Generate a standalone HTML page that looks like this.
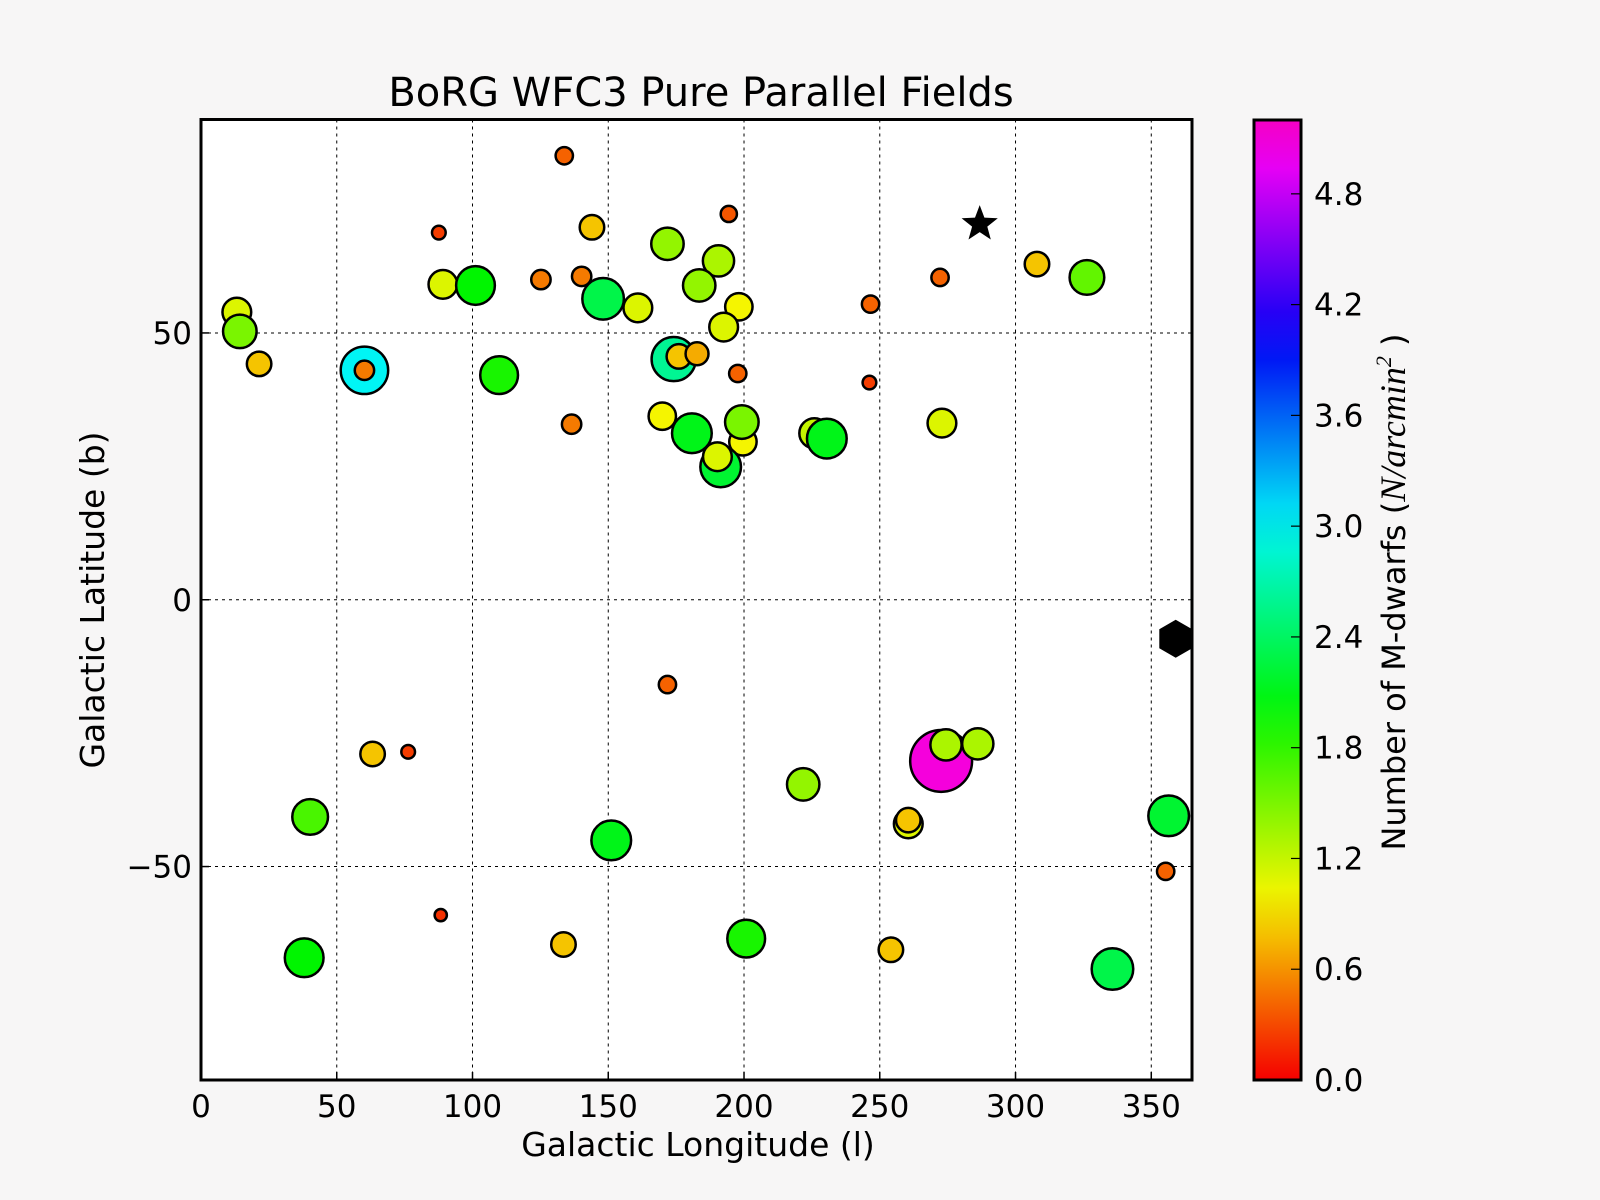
<!DOCTYPE html>
<html><head><meta charset="utf-8"><style>
html,body{margin:0;padding:0;background:#f7f6f6;}
svg{display:block;font-family:"DejaVu Sans","Liberation Sans",sans-serif;}
</style></head><body>
<svg id="chart" width="1600" height="1200" viewBox="0 0 1600 1200" xmlns="http://www.w3.org/2000/svg">
<defs>
<linearGradient id="cbg" x1="0" y1="1" x2="0" y2="0"></linearGradient>
</defs>
<rect x="0" y="0" width="1600" height="1200" fill="#f7f6f6"/>
<rect x="201" y="119.5" width="991" height="960.5" fill="#ffffff"/>
<g id="grid"></g>
<g id="marks"></g>
<rect x="201" y="119.5" width="991" height="960.5" fill="none" stroke="#000" stroke-width="3"/>
<g id="xticks"></g>
<g id="yticks"></g>
<text x="701" y="106" font-size="40" text-anchor="middle">BoRG WFC3 Pure Parallel Fields</text>
<text x="698" y="1156" font-size="33" text-anchor="middle">Galactic Longitude (l)</text>
<text transform="translate(104,600) rotate(-90)" font-size="33" text-anchor="middle">Galactic Latitude (b)</text>
<rect x="1254" y="120" width="47" height="960" fill="url(#cbg)" stroke="#000" stroke-width="3"/>
<g id="cticks"></g>
<text transform="translate(1405,592) rotate(-90)" font-size="32" text-anchor="middle">Number of M-dwarfs (<tspan font-family="Liberation Serif,serif" font-style="italic" font-size="36">N/arcmin</tspan><tspan font-family="Liberation Serif,serif" font-style="italic" font-size="22" dy="-14">2</tspan><tspan dy="14"> )</tspan></text>
</svg>
<script>
const lon = [133.8,87.6,144,194.4,171.8,190.6,13.2,14.3,21.4,89.1,101.1,125.2,140.2,148.1,160.9,183.5,198.1,192.5,60.2,60.2,109.8,174.1,176,182.7,197.7,246.6,246.2,272.2,307.9,326.3,136.5,169.9,180.8,199.6,199.2,191.4,190.2,225.9,230.5,272.9,171.8,63.2,76.3,40.2,151.1,221.8,272.6,274.4,286.1,260.5,260.5,356.4,355.3,88.3,38,133.5,200.8,254.1,335.7];
const lat = [83.2,68.8,69.8,72.3,66.7,63.5,53.9,50.3,44.2,59.1,58.9,60.0,60.6,56.4,54.7,58.9,54.9,51.1,43.0,43.0,42.1,45.1,45.6,46.1,42.4,55.4,40.7,60.4,62.9,60.4,32.9,34.4,31.2,29.6,33.3,24.9,26.8,31.2,30.2,33.1,-15.9,-28.9,-28.5,-40.7,-45.1,-34.6,-30.2,-27.2,-27.0,-42.0,-41.3,-40.5,-50.9,-59.1,-67.1,-64.6,-63.5,-65.6,-69.2];
const density = [0.4,0.25,0.8,0.35,1.4,1.3,1.1,1.5,0.8,1.1,2.0,0.5,0.5,2.3,1.1,1.4,1.0,1.1,3.0,0.5,1.9,2.6,0.8,0.7,0.4,0.4,0.25,0.4,0.8,1.6,0.5,1.0,2.1,1.0,1.5,2.2,1.1,1.2,2.1,1.1,0.4,0.8,0.25,1.7,2.1,1.4,5.1,1.3,1.3,1.1,0.8,2.2,0.4,0.2,2.0,0.8,1.9,0.8,2.3];
const specialLon = [286.8,359];
const specialLat = [70.4,-7.3];
const xTicks = [0,50,100,150,200,250,300,350];
const yTicks = [-50,0,50];
const cTicks = [0.0,0.6,1.2,1.8,2.4,3.0,3.6,4.2,4.8];
const NS="http://www.w3.org/2000/svg";
const X0=201,X1=1192,Y0=119.5,Y1=1080;
const xs=v=>X0+(v-0)/365*(X1-X0);
const ys=v=>Y1-(v+90)/180*(Y1-Y0);
const CMAX=5.2;
const cs=v=>1080-v/CMAX*960;
const col=v=>`hsl(${Math.max(0,Math.min(1,v/CMAX))*312},100%,48%)`;
function el(t,a,p){const e=document.createElementNS(NS,t);for(const k in a)e.setAttribute(k,a[k]);p.appendChild(e);return e;}
const grid=document.getElementById('grid');
xTicks.forEach(t=>{if(t>0){const l=el('line',{x1:xs(t),x2:xs(t),y1:Y0,y2:Y1,stroke:'#000','stroke-width':1,'stroke-dasharray':'3,4'},grid);

}});
yTicks.forEach(t=>{const l=el('line',{x1:X0,x2:X1,y1:ys(t),y2:ys(t),stroke:'#000','stroke-width':1,'stroke-dasharray':'3,4'},grid);

});
const xt=document.getElementById('xticks');
xTicks.forEach(t=>{const tx=el('text',{x:xs(t),y:1117,'font-size':31,'text-anchor':'middle'},xt);tx.textContent=t;


const tk=el('line',{x1:xs(t),x2:xs(t),y1:Y1,y2:Y1-8,stroke:'#000','stroke-width':1.5},xt);

});
const yt=document.getElementById('yticks');
yTicks.forEach(t=>{const tx=el('text',{x:192,y:ys(t)+11,'font-size':31,'text-anchor':'end'},yt);tx.textContent=t<0?'\u2212'+(-t):t;


const tk=el('line',{x1:X0,x2:X0+8,y1:ys(t),y2:ys(t),stroke:'#000','stroke-width':1.5},yt);

});
const marks=document.getElementById('marks');
for(let i=0;i<lon.length;i++){const r=13.7*Math.sqrt(density[i]);
const c=el('circle',{cx:xs(lon[i]),cy:ys(lat[i]),r:r,fill:col(density[i]),stroke:'#000','stroke-width':2.5},marks);

}
(function(){const cx=xs(specialLon[0]),cy=ys(specialLat[0]);let p=[];for(let k=0;k<10;k++){const a=-Math.PI/2+k*Math.PI/5;const rr=k%2?8:19;p.push((cx+rr*Math.cos(a)).toFixed(1)+','+(cy+rr*Math.sin(a)).toFixed(1));}
const s=el('polygon',{points:p.join(' '),fill:'#000'},marks);


const hx=xs(specialLon[1]),hy=ys(specialLat[1]);let q=[];for(let k=0;k<6;k++){const a=Math.PI/6+k*Math.PI/3;q.push((hx+19*Math.cos(a)).toFixed(1)+','+(hy+19*Math.sin(a)).toFixed(1));}
const h=el('polygon',{points:q.join(' '),fill:'#000'},marks);

})();
const g=document.getElementById('cbg');
for(let k=0;k<=20;k++){const v=k/20*CMAX;el('stop',{offset:(k/20),'stop-color':col(v)},g);}
const ct=document.getElementById('cticks');
cTicks.forEach(t=>{const tx=el('text',{x:1314,y:cs(t)+11,'font-size':31},ct);tx.textContent=t.toFixed(1);


const tk=el('line',{x1:1291,x2:1301,y1:cs(t),y2:cs(t),stroke:'#000','stroke-width':1.2},ct);

});
</script>
</body></html>
